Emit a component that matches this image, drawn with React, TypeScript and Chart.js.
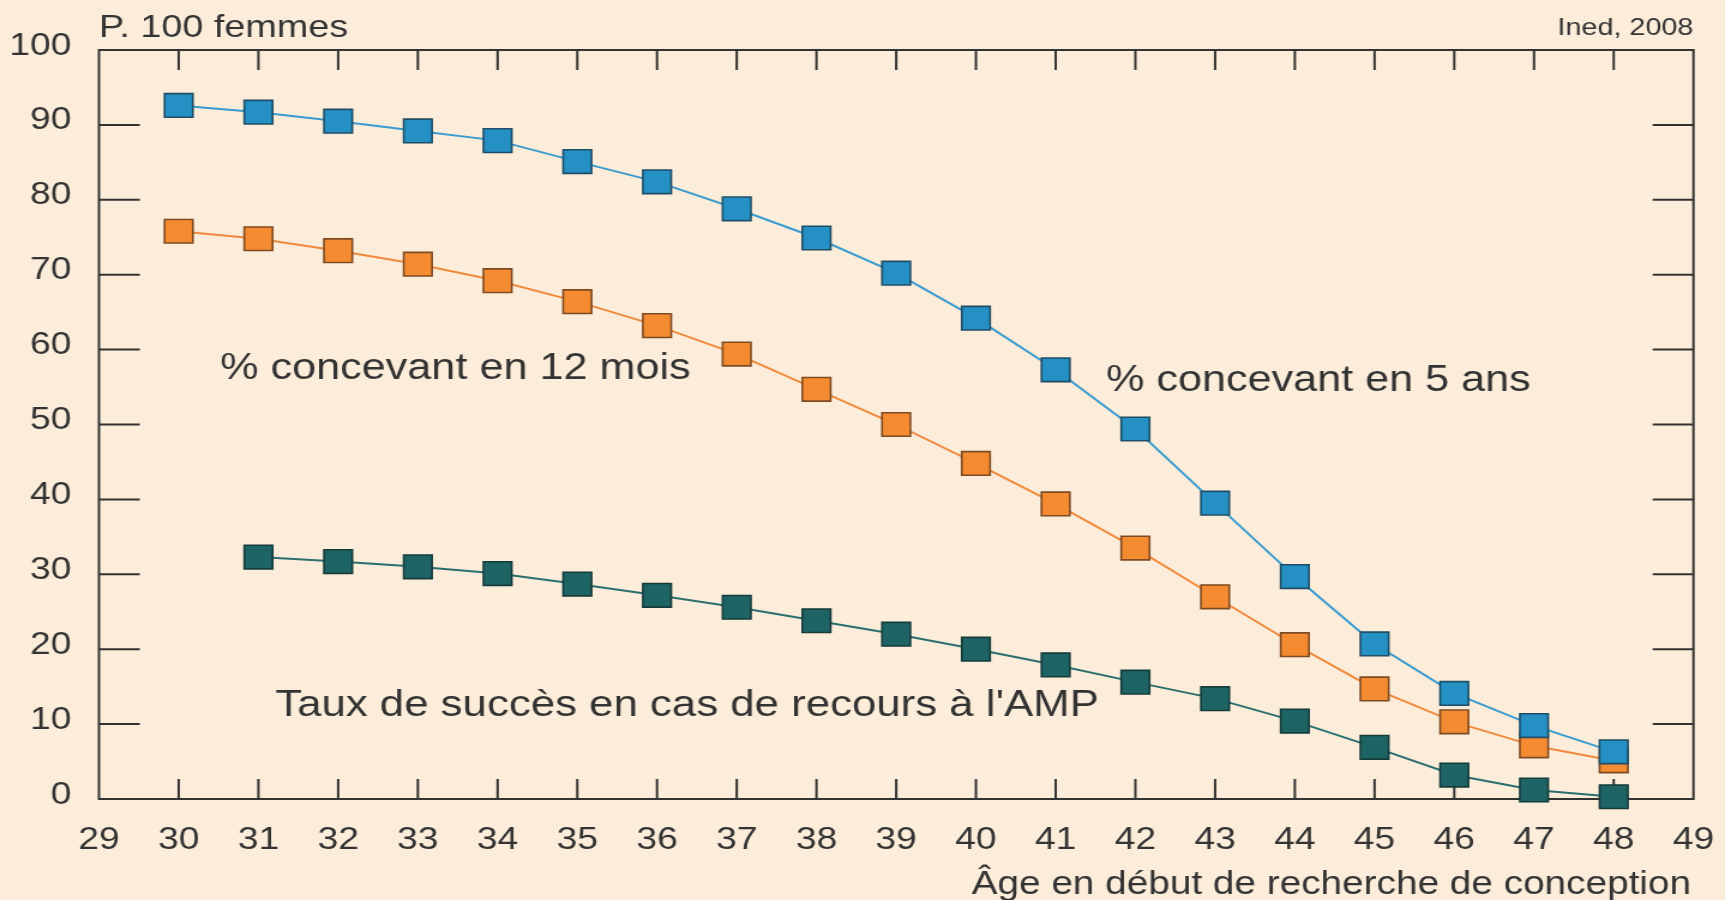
import { useEffect, useRef } from "react";
import { Chart, registerables } from "chart.js";

Chart.register(...registerables);

// ---- Data ----
const ages = [30, 31, 32, 33, 34, 35, 36, 37, 38, 39, 40, 41, 42, 43, 44, 45, 46, 47, 48];
const concevant5ans = [92.6, 91.7, 90.5, 89.2, 87.9, 85.1, 82.4, 78.8, 74.9, 70.2, 64.2, 57.3, 49.4, 39.5, 29.7, 20.7, 14.1, 9.8, 6.3];
const concevant12mois = [75.8, 74.8, 73.2, 71.4, 69.2, 66.4, 63.2, 59.4, 54.7, 50.0, 44.8, 39.4, 33.5, 27.0, 20.6, 14.7, 10.3, 7.1, 5.1];
const agesAMP = [31, 32, 33, 34, 35, 36, 37, 38, 39, 40, 41, 42, 43, 44, 45, 46, 47, 48];
const succesAMP = [32.3, 31.7, 31.0, 30.1, 28.7, 27.2, 25.6, 23.8, 22.0, 20.0, 17.9, 15.6, 13.4, 10.4, 6.9, 3.2, 1.2, 0.3];

const xMin = 29;
const xMax = 49;
const xStep = 1;
const yMin = 0;
const yMax = 100;
const yStep = 10;

const seriesLabels = [
  { text: "% concevant en 12 mois", x: 30.52, y: 56.1, size: 36 },
  { text: "% concevant en 5 ans", x: 41.63, y: 54.5, size: 36 },
  { text: "Taux de succès en cas de recours à l'AMP", x: 31.21, y: 11.1, size: 36.5 },
];
const yTitle = "P. 100 femmes";
const sourceText = "Ined, 2008";
const xTitle = "Âge en début de recherche de conception";

// ---- Styles ----
const BG = "#FCEDDA";
const INK = "#333333";
const FONT = '"Liberation Sans", Arial, Helvetica, sans-serif';

const pts = (xs: number[], ys: number[]) => xs.map((x, i) => ({ x, y: ys[i] }));

const axesPlugin = {
  id: "boxAxes",
  beforeDatasetsDraw(chart: any) {
    const { ctx, chartArea } = chart;
    const { left, right, top, bottom } = chartArea;
    const xs = chart.scales.x;
    const ys = chart.scales.y;
    ctx.save();
    ctx.strokeStyle = INK;
    ctx.lineWidth = 2;
    ctx.strokeRect(left, top, right - left, bottom - top);
    ctx.beginPath();
    xs.ticks.forEach((t: any) => {
      const px = xs.getPixelForValue(t.value);
      if (px <= left + 1 || px >= right - 1) return;
      ctx.moveTo(px, bottom);
      ctx.lineTo(px, bottom - 20);
      ctx.moveTo(px, top);
      ctx.lineTo(px, top + 20);
    });
    ys.ticks.forEach((t: any) => {
      const py = ys.getPixelForValue(t.value);
      if (py <= top + 1 || py >= bottom - 1) return;
      ctx.moveTo(left, py);
      ctx.lineTo(left + 34, py);
      ctx.moveTo(right, py);
      ctx.lineTo(right - 34, py);
    });
    ctx.stroke();
    ctx.restore();
  },
  afterDraw(chart: any) {
    const { ctx, chartArea } = chart;
    const xs = chart.scales.x;
    const ys = chart.scales.y;
    ctx.save();
    ctx.fillStyle = INK;
    ctx.textBaseline = "alphabetic";
    // header texts
    ctx.textAlign = "left";
    ctx.font = `31.5px ${FONT}`;
    ctx.fillText(yTitle, chartArea.left, chartArea.top - 13);
    ctx.textAlign = "right";
    ctx.font = `24px ${FONT}`;
    ctx.fillText(sourceText, chartArea.right, chartArea.top - 15);
    // x axis title
    ctx.font = `32.3px ${FONT}`;
    ctx.fillText(xTitle, chartArea.right - 2, chartArea.bottom + 95);
    // series labels anchored in data space
    ctx.textAlign = "left";
    seriesLabels.forEach((l) => {
      ctx.font = `${l.size}px ${FONT}`;
      ctx.fillText(l.text, xs.getPixelForValue(l.x), ys.getPixelForValue(l.y));
    });
    ctx.restore();
  },
};

export default function App() {
  const ref = useRef<HTMLCanvasElement>(null);
  useEffect(() => {
    document.body.style.margin = "0";
    const canvas = ref.current!;
    const common = {
      pointStyle: "rect",
      pointRadius: 16.7,
      pointHoverRadius: 16.7,
      pointBorderWidth: 1.6,
      borderWidth: 2,
      tension: 0,
      clip: false,
      fill: false,
    };
    const chart = new Chart(canvas, {
      type: "line",
      data: {
        datasets: [
          {
            ...common,
            label: "% concevant en 5 ans",
            data: pts(ages, concevant5ans),
            borderColor: "#3A9BCF",
            backgroundColor: "#2490C4",
            pointBackgroundColor: "#2490C4",
            pointBorderColor: "#1F4D66",
          },
          {
            ...common,
            label: "% concevant en 12 mois",
            data: pts(ages, concevant12mois),
            borderColor: "#F08A3C",
            backgroundColor: "#F48B30",
            pointBackgroundColor: "#F48B30",
            pointBorderColor: "#7E4A22",
          },
          {
            ...common,
            label: "Taux de succès en cas de recours à l'AMP",
            data: pts(agesAMP, succesAMP),
            borderColor: "#2A6E6E",
            backgroundColor: "#1F6464",
            pointBackgroundColor: "#1F6464",
            pointBorderColor: "#153B3B",
          },
        ] as any,
      },
      options: {
        responsive: false,
        animation: false,
        devicePixelRatio: 1,
        events: [],
        layout: { padding: { left: 0, top: 50, right: 26.3, bottom: 0 } },
        plugins: { legend: { display: false }, tooltip: { enabled: false } },
        scales: {
          x: {
            type: "linear",
            min: xMin,
            max: xMax,
            grid: { display: false, drawTicks: false },
            border: { display: false },
            ticks: {
              stepSize: xStep,
              autoSkip: false,
              padding: 23,
              color: INK,
              font: { family: FONT, size: 31 },
            },
            afterFit: (s: any) => {
              s.height = 101;
              s.paddingLeft = 0;
              s.paddingRight = 0;
            },
          },
          y: {
            type: "linear",
            min: yMin,
            max: yMax,
            grid: { display: false, drawTicks: false },
            border: { display: false },
            ticks: {
              stepSize: yStep,
              autoSkip: false,
              padding: 23,
              labelOffset: -4,
              color: INK,
              font: { family: FONT, size: 31 },
            },
            afterFit: (s: any) => {
              s.width = 82.5;
              s.paddingTop = 0;
              s.paddingBottom = 0;
            },
          },
        },
      } as any,
      plugins: [axesPlugin],
    });
    return () => chart.destroy();
  }, []);
  return (
    <div
      style={{
        position: "fixed",
        left: 0,
        top: 0,
        width: 1725,
        height: 900,
        background: BG,
        overflow: "hidden",
      }}
    >
      <canvas
        ref={ref}
        width={1438}
        height={900}
        style={{ width: "1725px", height: "900px", display: "block" }}
      />
    </div>
  );
}
